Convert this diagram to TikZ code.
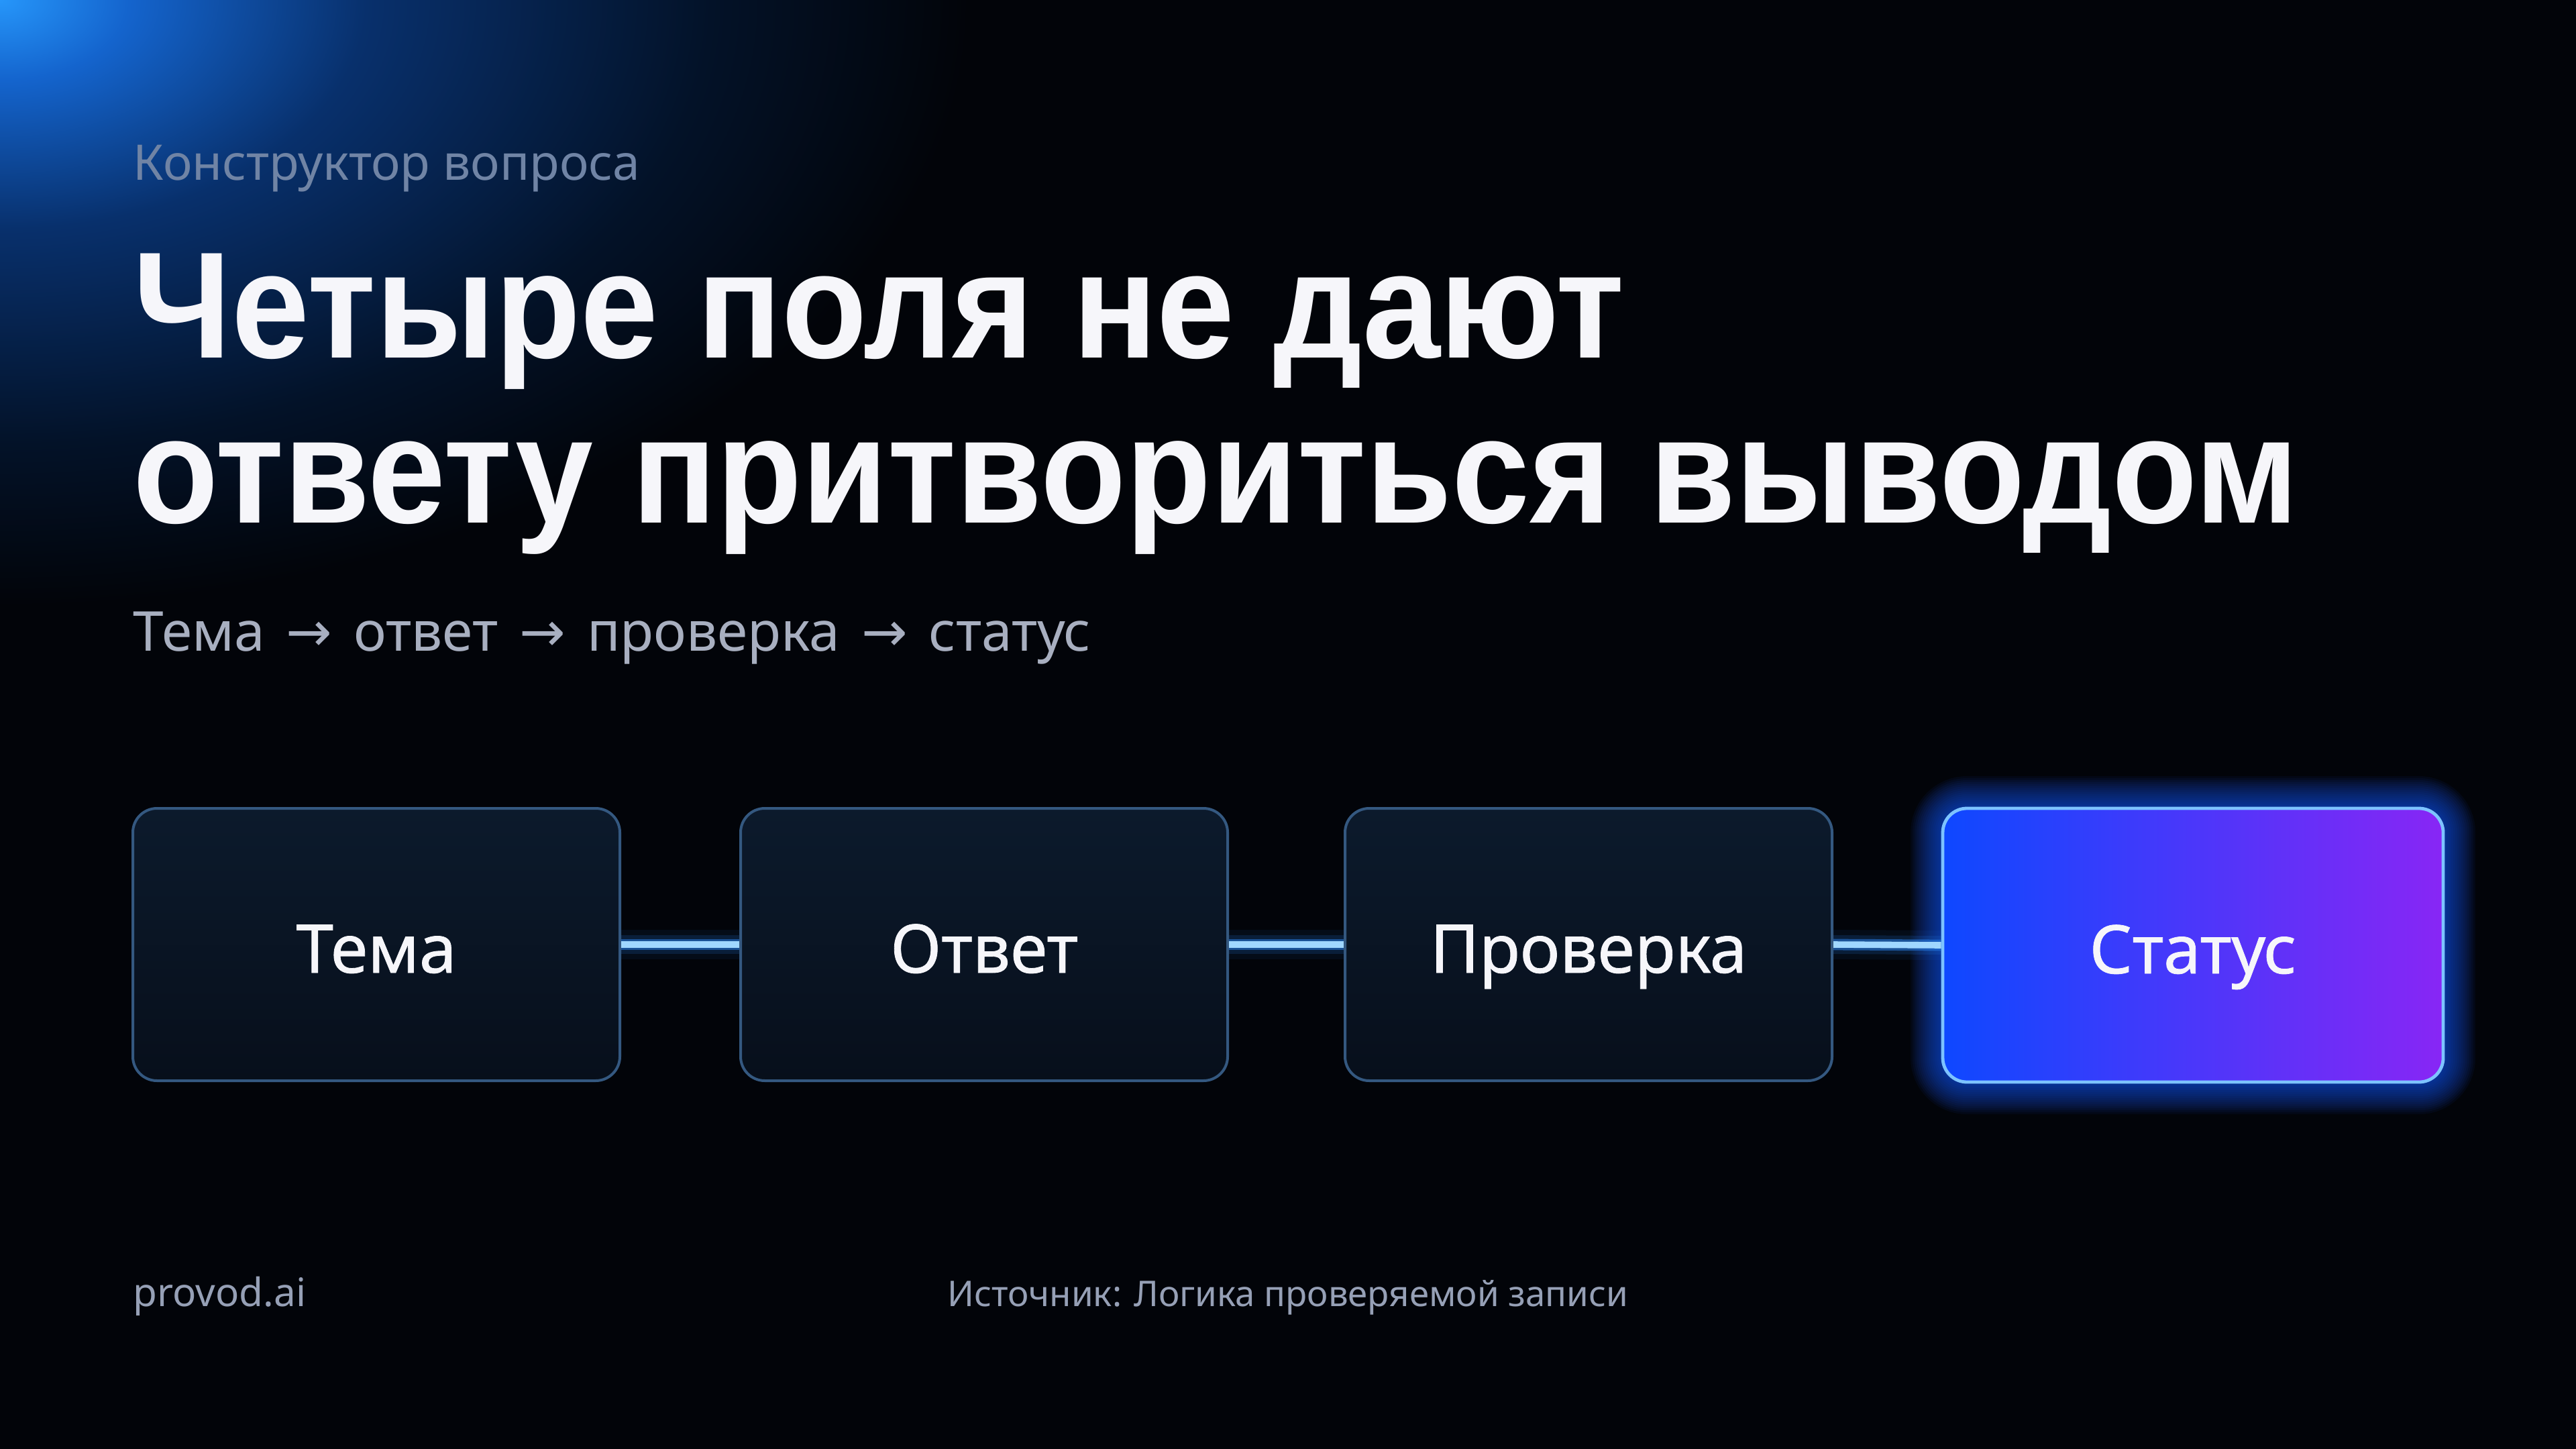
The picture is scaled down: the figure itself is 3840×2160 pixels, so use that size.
\documentclass[tikz,border=0pt]{standalone}
\usepackage{fontspec}
\setmainfont{Noto Sans}
\newfontfamily\arrowfont{DejaVu Sans}
\newfontfamily\titlefont{Liberation Sans}[FakeStretch=0.922]
\newfontfamily\labelfont{Noto Sans}[FakeBold=0.8]
\definecolor{bgc}{RGB}{2,4,9}
\definecolor{glowA}{RGB}{38,150,250}
\definecolor{glowB}{RGB}{20,100,205}
\definecolor{glowC}{RGB}{8,48,108}
\definecolor{glowD}{RGB}{3,18,40}
\definecolor{kicker}{RGB}{112,132,165}
\definecolor{subc}{RGB}{168,175,192}
\definecolor{footc}{RGB}{150,160,182}
\definecolor{titlec}{RGB}{246,246,250}
\definecolor{boxtop}{RGB}{12,26,44}
\definecolor{boxbot}{RGB}{7,15,27}
\definecolor{boxline}{RGB}{52,88,128}
\definecolor{stA}{RGB}{14,72,255}
\definecolor{stB}{RGB}{136,38,245}
\definecolor{stline}{RGB}{125,195,255}
\definecolor{stglow}{RGB}{25,90,255}
\definecolor{conglow}{RGB}{40,125,230}
\definecolor{concore}{RGB}{160,215,255}
\pgfdeclareradialshading{cornerglow}{\pgfpoint{0bp}{0bp}}{color(0bp)=(glowA); color(6bp)=(glowB); color(17bp)=(glowC); color(33bp)=(glowD); color(45bp)=(bgc); color(50bp)=(bgc)}
\tikzset{
  fieldbox/.style={draw=boxline, line width=1pt, rounded corners=9pt,
    top color=boxtop, bottom color=boxbot,
    minimum width=181.5pt, minimum height=101.5pt, inner sep=0pt,
    text height=21pt, text depth=0pt,
    text=titlec, font=\labelfont\fontsize{25pt}{30pt}\selectfont},
  statbox/.style={draw=stline, line width=1.2pt, rounded corners=9pt,
    left color=stA, right color=stB,
    minimum width=186.5pt, minimum height=102pt, inner sep=0pt,
    text height=21pt, text depth=0pt,
    text=titlec, font=\labelfont\fontsize{25pt}{30pt}\selectfont},
  txt/.style={inner sep=0pt, anchor=base west}
}
\newcommand{\arr}{\hspace{8pt}{\arrowfont→}\hspace{8pt}}
\begin{document}
\begin{tikzpicture}[x=0.25pt,y=-0.25pt]
\useasboundingbox (0,0) rectangle (3840,2160);
\fill[bgc] (0,0) rectangle (3840,2160);
\begin{scope}
\clip (0,0) rectangle (3840,2160);
\node[inner sep=0pt, anchor=center] (glow) at (0,0) {\scalebox{8}[5]{\pgfuseshading{cornerglow}}};
\end{scope}

% texts
\node[txt, text=kicker, font=\fontsize{18.3pt}{22pt}\selectfont] (kick) at (198,269) {Конструктор вопроса};
\node[txt, text=titlec, font=\titlefont\fontsize{56.5pt}{60pt}\selectfont\bfseries] (t1) at (198,534) {Четыре поля не дают};
\node[txt, text=titlec, font=\titlefont\fontsize{56.5pt}{60pt}\selectfont\bfseries] (t2) at (198,779) {ответу притвориться выводом};
\node[txt, text=subc, font=\fontsize{20.5pt}{24pt}\selectfont] (sub) at (198,970) {Тема\arr ответ\arr проверка\arr статус};

% status glow
\foreach \i in {1,...,16} {
  \draw[stglow, line width=\i*1.5pt, opacity=0.055, rounded corners=9pt] (2896,1205) rectangle (3642,1613);
}

% boxes
\node[fieldbox] (b1) at (561,1408) {Тема};
\node[fieldbox] (b2) at (1467,1408) {Ответ};
\node[fieldbox] (b3) at (2368,1408) {Проверка};
\node[statbox] (b4) at (3269,1409) {Статус};

% connectors
\foreach \a/\b in {b1/b2,b2/b3,b3/b4} {
  \draw[conglow, line width=11pt, opacity=0.07] (\a.east) -- (\b.west);
  \draw[conglow, line width=7pt, opacity=0.16] (\a.east) -- (\b.west);
  \draw[conglow, line width=4.2pt, opacity=0.55] (\a.east) -- (\b.west);
  \draw[concore, line width=2.4pt] (\a.east) -- (\b.west);
}

% footer
\node[txt, text=footc, font=\fontsize{14.6pt}{18pt}\selectfont] (brand) at (198,1947) {provod.ai};
\node[inner sep=0pt, anchor=base, text=footc, font=\fontsize{13.2pt}{18pt}\selectfont] (src) at (1920,1947) {Источник: Логика проверяемой записи};
\end{tikzpicture}
\end{document}
